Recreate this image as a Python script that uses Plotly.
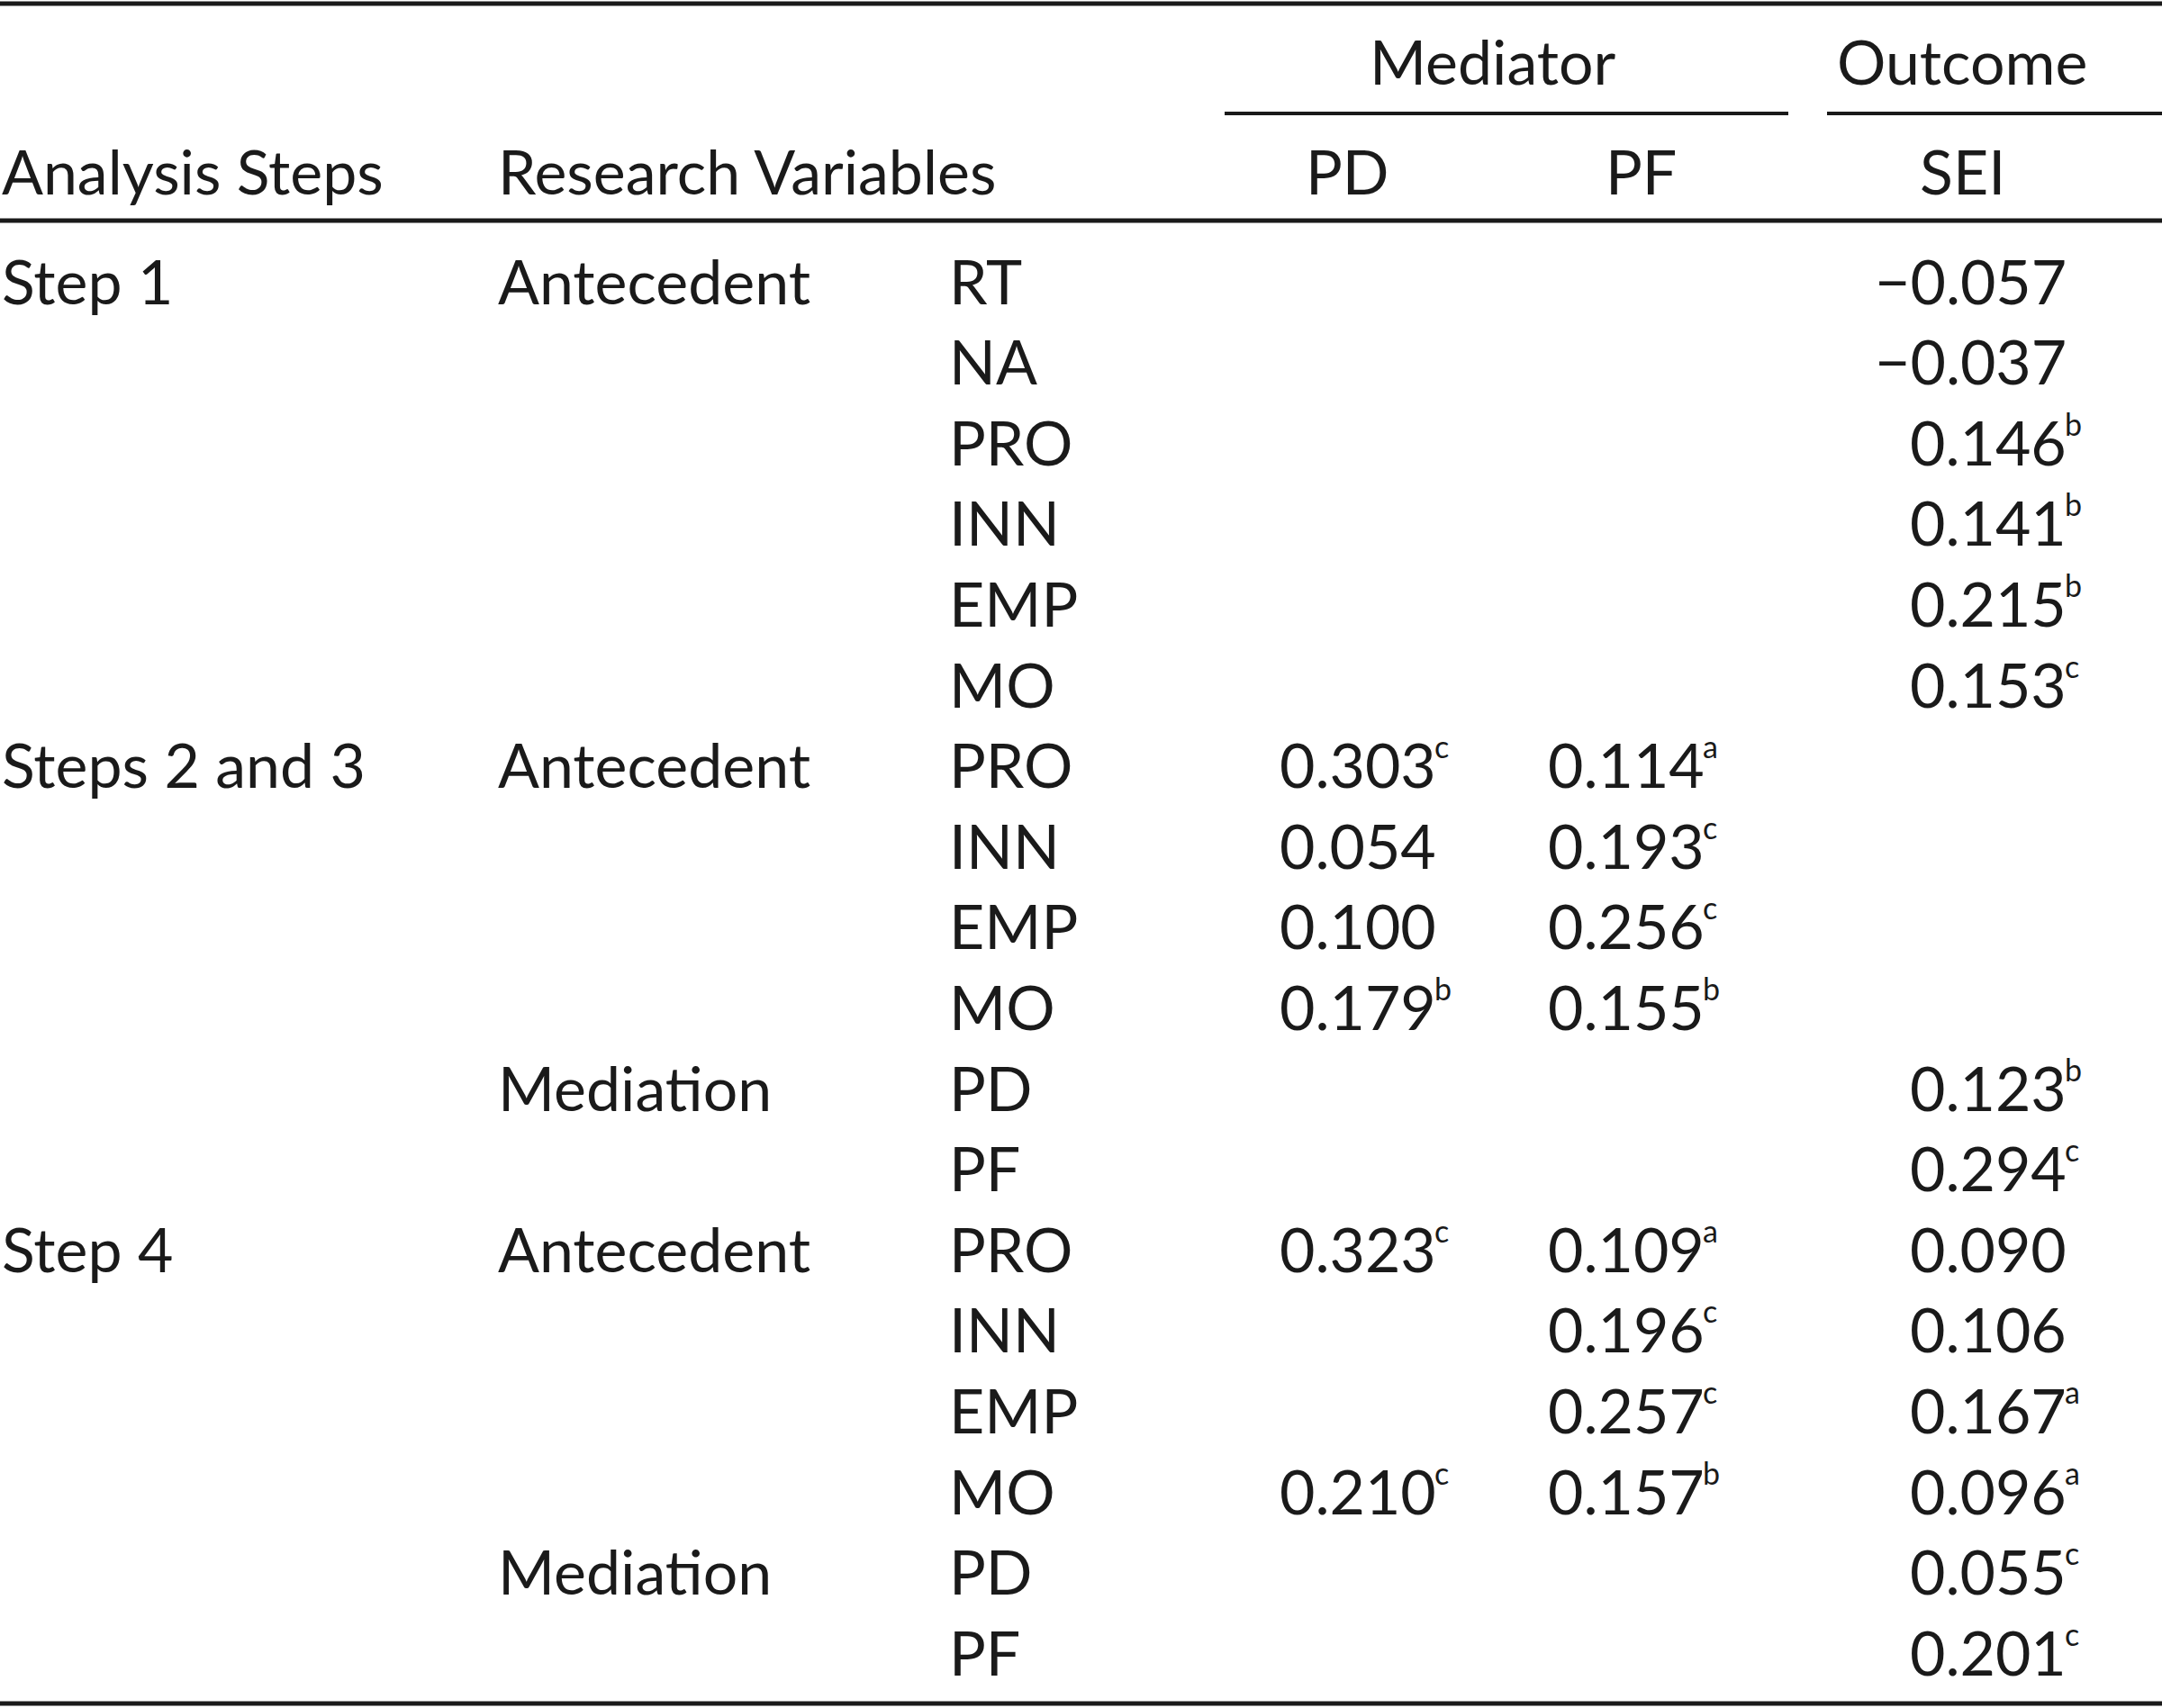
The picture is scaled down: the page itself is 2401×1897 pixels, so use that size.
import plotly.graph_objects as go

# table contents
steps = ["Step 1", "", "", "", "", "", "Steps 2 and 3", "", "", "", "", "",
         "Step 4", "", "", "", "", ""]
groups = ["Antecedent", "", "", "", "", "", "Antecedent", "", "", "", "Mediation", "",
          "Antecedent", "", "", "", "Mediation", ""]
variables = ["RT", "NA", "PRO", "INN", "EMP", "MO", "PRO", "INN", "EMP", "MO", "PD", "PF",
             "PRO", "INN", "EMP", "MO", "PD", "PF"]
pd_vals = ["", "", "", "", "", "", "0.303", "0.054", "0.100", "0.179", "", "",
           "0.323", "", "", "0.210", "", ""]
pd_sup = ["", "", "", "", "", "", "c", "", "", "b", "", "",
          "c", "", "", "c", "", ""]
pf_vals = ["", "", "", "", "", "", "0.114", "0.193", "0.256", "0.155", "", "",
           "0.109", "0.196", "0.257", "0.157", "", ""]
pf_sup = ["", "", "", "", "", "", "a", "c", "c", "b", "", "",
          "a", "c", "c", "b", "", ""]
sei_vals = ["\u22120.057", "\u22120.037", "0.146", "0.141", "0.215", "0.153", "", "", "", "",
            "0.123", "0.294", "0.090", "0.106", "0.167", "0.096", "0.055", "0.201"]
sei_sup = ["", "", "b", "b", "b", "c", "", "", "", "",
           "b", "c", "", "", "a", "a", "c", "c"]

W, H = 2401, 1897
FONT = "Lato"
FS = 68
SUP_FS = 34
INK = "#1a1a1a"

row_y0 = 311
row_dy = 89.6

fig = go.Figure()
fig.add_trace(go.Scatter(x=[0, W], y=[0, H], mode="markers",
                         marker=dict(opacity=0), hoverinfo="skip", showlegend=False))

ann = []


def txt(x, y, s, anchor="left", size=FS):
    ann.append(dict(x=x, y=y, xref="x", yref="y", text=s, showarrow=False,
                    xanchor=anchor, yanchor="middle",
                    font=dict(family=FONT, size=size, color=INK)))


def num(xr, y, s, sup):
    # digits right-aligned, superscript letter hung off the right edge
    txt(xr, y, s, anchor="right")
    if sup:
        ann.append(dict(x=xr - 6, y=y - 20, xref="x", yref="y", text=sup, showarrow=False,
                        xanchor="left", yanchor="middle",
                        font=dict(family=FONT, size=SUP_FS, color=INK)))


# header
txt(1658, 67, "Mediator", anchor="center")
txt(2179, 67, "Outcome", anchor="center")
txt(0, 189, "Analysis Steps")
txt(551, 189, "Research Variables")
txt(1496, 189, "PD", anchor="center")
txt(1822, 189, "PF", anchor="center")
txt(2179, 189, "SEI", anchor="center")

for i in range(len(variables)):
    y = row_y0 + i * row_dy
    if steps[i]:
        txt(0, y, steps[i])
    if groups[i]:
        txt(551, y, groups[i])
    txt(1052, y, variables[i])
    if pd_vals[i]:
        num(1597, y, pd_vals[i], pd_sup[i])
    if pf_vals[i]:
        num(1895, y, pf_vals[i], pf_sup[i])
    if sei_vals[i]:
        num(2297, y, sei_vals[i], sei_sup[i])

rule = dict(color=INK, width=5)
shapes = [
    dict(type="line", xref="x", yref="y", x0=0, x1=W, y0=4, y1=4, line=rule),
    dict(type="line", xref="x", yref="y", x0=1360, x1=1986, y0=126, y1=126,
         line=dict(color=INK, width=4)),
    dict(type="line", xref="x", yref="y", x0=2029, x1=W, y0=126, y1=126,
         line=dict(color=INK, width=4)),
    dict(type="line", xref="x", yref="y", x0=0, x1=W, y0=245, y1=245, line=rule),
    dict(type="line", xref="x", yref="y", x0=0, x1=W, y0=1892, y1=1892, line=rule),
]

fig.update_layout(
    width=W, height=H,
    margin=dict(l=0, r=0, t=0, b=0),
    paper_bgcolor="white", plot_bgcolor="white",
    xaxis=dict(range=[0, W], visible=False, fixedrange=True),
    yaxis=dict(range=[H, 0], visible=False, fixedrange=True),
    annotations=ann, shapes=shapes,
)

fig.write_html("out.html", config={"displayModeBar": False},
               post_script="document.body.style.margin='0';")
